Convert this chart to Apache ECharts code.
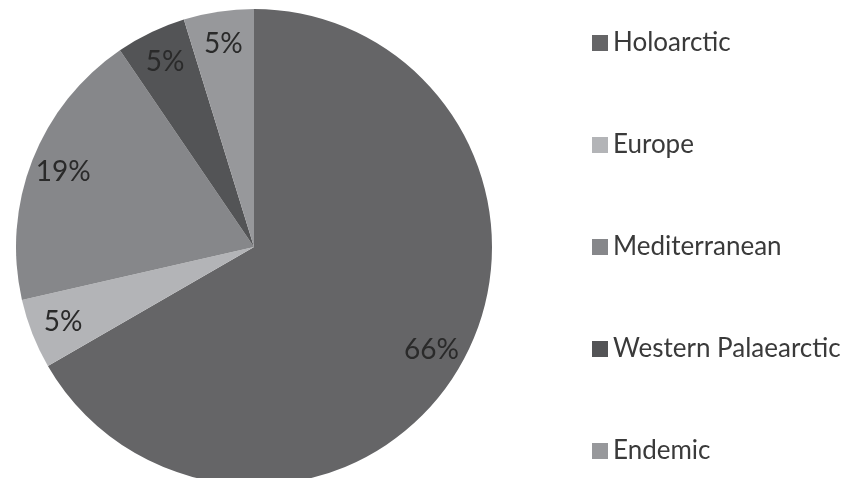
<!DOCTYPE html>
<html>
<head>
<meta charset="utf-8">
<script src="https://cdn.jsdelivr.net/npm/echarts@6/dist/echarts.min.js"></script>
<style>
  html, body { margin: 0; padding: 0; background: #fff; }
  #chart { width: 856px; height: 478px; }
</style>
</head>
<body>
<div id="chart"></div>
<script>
var regions = ['Holoarctic', 'Europe', 'Mediterranean', 'Western Palaearctic', 'Endemic'];
var counts = [14, 1, 4, 1, 1];
var shownPct = ['66%', '5%', '19%', '5%', '5%'];
var colors = ['#656567', '#b3b4b7', '#86878a', '#535456', '#97989b'];

var chart = echarts.init(document.getElementById('chart'));

var pieData = regions.map(function (name, i) {
  return { name: name, value: counts[i], itemStyle: { color: colors[i] } };
});

var option = {
  animation: false,
  legend: {
    orient: 'vertical',
    left: 587,
    top: 25,
    itemWidth: 16,
    itemHeight: 16,
    itemGap: 76,
    icon: 'rect',
    data: regions,
    textStyle: {
      fontFamily: 'Lato',
      fontSize: 26,
      color: '#3a3a3a'
    }
  },
  series: [
    {
      // actual slices
      type: 'pie',
      center: [254, 247],
      radius: [0, 238],
      startAngle: 90,
      clockwise: true,
      label: { show: false },
      labelLine: { show: false },
      itemStyle: { borderWidth: 0 },
      data: pieData
    },
    {
      // transparent ring used only to place labels near the rim
      type: 'pie',
      center: [254, 247],
      radius: [166, 238],
      startAngle: 90,
      clockwise: true,
      silent: true,
      label: {
        show: true,
        position: 'inside',
        fontFamily: 'Lato',
        fontSize: 28,
        color: '#2a2a2a',
        formatter: function (p) { return shownPct[p.dataIndex]; }
      },
      labelLine: { show: false },
      itemStyle: { color: 'rgba(0,0,0,0)' },
      data: regions.map(function (name, i) {
        return { name: name, value: counts[i] };
      })
    }
  ]
};

chart.setOption(option);
</script>
</body>
</html>
